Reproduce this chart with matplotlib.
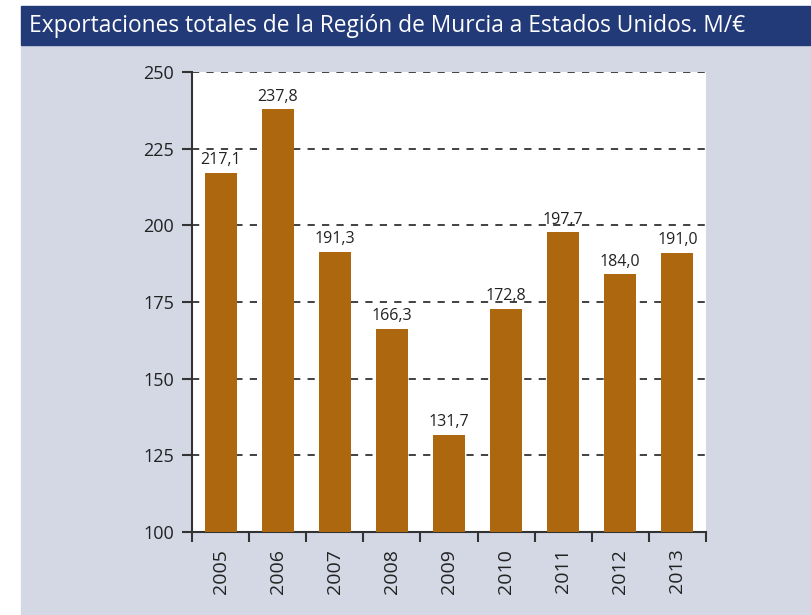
import matplotlib.pyplot as plt
import numpy as np

# --- datos ---
years = ['2005', '2006', '2007', '2008', '2009', '2010', '2011', '2012', '2013']
values = [217.1, 237.8, 191.3, 166.3, 131.7, 172.8, 197.7, 184.0, 191.0]
labels = ['217,1', '237,8', '191,3', '166,3', '131,7', '172,8', '197,7', '184,0', '191,0']
yticks = [100, 125, 150, 175, 200, 225, 250]

W, H = 811, 615
fig = plt.figure(figsize=(W / 100, H / 100), dpi=100)
fig.patch.set_facecolor('white')

# fondo gris-lavanda y franja del título
fig.patches.append(plt.Rectangle((21 / W, 0), 1 - 21 / W, 1 - 45 / H,
                                 transform=fig.transFigure, color='#d4d8e5', zorder=-2))
fig.patches.append(plt.Rectangle((21 / W, 1 - 45 / H), 1 - 21 / W, 39 / H,
                                 transform=fig.transFigure, color='#233a78', zorder=-2))
fig.text(29 / W, 1 - 26 / H, 'Exportaciones totales de la Región de Murcia a Estados Unidos. M/€',
         color='white', fontsize=16.4, va='center', ha='left', family='Open Sans')

ax = fig.add_axes([192 / W, 1 - 532 / H, (706 - 192) / W, (532 - 72) / H])
ax.set_zorder(2)
ax.set_facecolor('white')

x = np.arange(len(years))
ax.bar(x, values, width=0.56, color='#ad680f', zorder=3)
for xi, v, lab in zip(x, values, labels):
    ax.text(xi, v + 1.5, lab, ha='center', va='bottom', fontsize=11.5,
            color='#222222', family='Open Sans', zorder=4)

ax.set_xlim(-0.5, len(years) - 0.5)
ax.set_ylim(100, 250)
ax.set_yticks(yticks)
ax.set_yticklabels([str(t) for t in yticks], fontsize=13, family='Open Sans', color='#222222')
ax.yaxis.grid(True, linestyle=(0, (4, 4)), color='#333333', linewidth=1.3, zorder=1)
ax.set_axisbelow(True)

# ticks en los límites de categoría, etiquetas centradas
ax.set_xticks(np.arange(-0.5, len(years), 1))
ax.set_xticklabels([])
ax.set_xticks(x, minor=True)
ax.set_xticklabels(years, minor=True, rotation=90, fontsize=14, family='Open Sans', color='#222222')
ax.tick_params(axis='x', which='minor', length=0, pad=12)
ax.tick_params(axis='x', which='major', length=7, width=1.5, color='#333333')
ax.tick_params(axis='y', length=7, width=1.5, color='#333333', pad=6)

for s in ['top', 'right']:
    ax.spines[s].set_visible(False)
for s in ['left', 'bottom']:
    ax.spines[s].set_linewidth(1.5)
    ax.spines[s].set_color('#333333')

fig.savefig('out.png', dpi=100)
